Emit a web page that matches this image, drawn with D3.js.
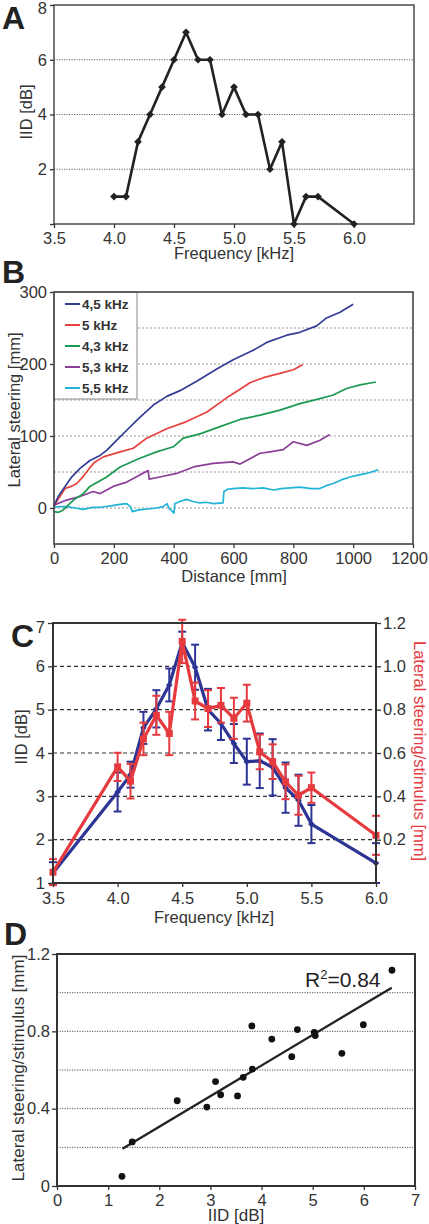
<!DOCTYPE html>
<html><head><meta charset="utf-8">
<script src="https://cdn.jsdelivr.net/npm/d3@7"></script>
<style>
html,body{margin:0;padding:0;background:#fff;}
svg{display:block;font-family:"Liberation Sans",Arial,Helvetica,sans-serif;}
</style></head><body>
<svg id="fig" width="429" height="1224"></svg>
<script>
// ---------- Panel A data ----------
const freqA = [4.0,4.1,4.2,4.3,4.4,4.5,4.6,4.7,4.8,4.9,5.0,5.1,5.2,5.3,5.4,5.5,5.6,5.7,6.0];
const iidA  = [1,1,3,4,5,6,7,6,6,4,5,4,4,2,3,0,1,1,0];
const ticksAx = [3.5,4.0,4.5,5.0,5.5,6.0];
const ticksAy = [0,2,4,6,8];

// ---------- Panel B data (distance mm, lateral steering mm) ----------
const seriesNamesB = ["4,5 kHz","5 kHz","4,3 kHz","5,3 kHz","5,5 kHz"];
const trace45 = [[0,3],[14,16],[37,30],[59,43],[87,55],[120,66],[154,73],[176,80],[209,94],[243,108],[287,126],[332,143],[377,155],[421,163],[477,176],[544,193],[599,206],[666,219],[711,230],[778,240],[822,244],[878,253],[911,264],[956,272],[1000,283]];
const trace50 = [[0,3],[26,20],[37,27],[57,30],[76,34],[98,44],[120,56],[137,64],[165,71],[221,78],[265,83],[310,97],[377,110],[443,120],[510,133],[577,153],[622,165],[655,174],[700,181],[755,187],[800,192],[831,199]];
const trace43 = [[0,-5],[15,-6],[30,-3],[42,2],[65,11],[98,20],[120,30],[176,43],[221,57],[287,69],[343,78],[399,85],[432,97],[488,103],[555,113],[622,123],[689,129],[755,136],[822,145],[889,152],[933,157],[978,166],[1023,171],[1076,175]];
const trace53 = [[0,4],[42,11],[87,16],[131,23],[154,20],[198,30],[243,36],[287,46],[315,52],[318,40],[354,43],[410,48],[466,57],[532,62],[599,64],[622,61],[644,66],[689,76],[722,78],[766,81],[800,92],[845,87],[889,94],[922,102]];
const trace55 = [[0,1],[20,2],[42,2],[70,0],[98,-2],[130,1],[154,1],[190,3],[220,5],[243,6],[255,2],[262,-5],[280,-3],[299,-2],[320,-1],[343,0],[365,2],[378,6],[385,-1],[392,-3],[398,-6],[401,-7],[404,6],[420,9],[443,12],[465,9],[488,7],[510,8],[532,6],[565,7],[568,23],[580,26],[599,27],[630,28],[666,27],[700,28],[733,25],[760,27],[790,28],[822,29],[860,27],[889,27],[910,31],[933,34],[960,39],[989,43],[1020,46],[1045,48],[1084,53]];
const ticksBx = [0,200,400,600,800,1000,1200];
const ticksBy = [0,100,200,300];
const gridBy = [0,50,100,150,200,250];

// ---------- Panel C data ----------
const freqC   = [3.5,4.0,4.1,4.2,4.3,4.4,4.5,4.6,4.7,4.8,4.9,5.0,5.1,5.2,5.3,5.4,5.5,6.0];
const iidC    = [1.23,3.1,3.5,4.58,5.02,5.57,6.55,5.98,5.0,4.68,4.22,3.8,3.82,3.67,3.2,2.91,2.36,1.46];
const iidErrC = [0.25,0.45,0.3,0.37,0.43,0.38,0.25,0.52,0.48,0.38,0.45,0.53,0.63,0.65,0.58,0.59,0.44,0.46];
const steerC    = [0.05,0.536,0.47,0.665,0.774,0.69,1.115,0.84,0.805,0.82,0.76,0.83,0.605,0.56,0.467,0.405,0.44,0.22];
const steerErrC = [0.06,0.065,0.08,0.075,0.09,0.1,0.1,0.085,0.085,0.08,0.095,0.085,0.08,0.08,0.08,0.09,0.07,0.09];
const ticksCx = [3.5,4.0,4.5,5.0,5.5,6.0];
const ticksCy = [1,2,3,4,5,6,7];
const ticksCr = [0.2,0.4,0.6,0.8,1.0,1.2];

// ---------- Panel D data ----------
const iidD   = [1.27,1.47,2.35,2.93,3.10,3.20,3.53,3.64,3.81,3.82,4.2,4.59,4.70,5.03,5.05,5.57,5.99,6.55];
const steerD = [0.05,0.228,0.441,0.408,0.54,0.472,0.466,0.562,0.828,0.605,0.76,0.669,0.809,0.795,0.778,0.686,0.834,1.116];
const fitX = [1.28,6.545];
const fitY = [0.193,1.026];
const ticksDx = [0,1,2,3,4,5,6,7];
const ticksDy = [0,0.4,0.8,1.2];
const gridDy = [0.2,0.4,0.6,0.8,1.0];

// ---------- helpers ----------
const svg = d3.select("#fig");
const TXT = "#333";
const FS = 16.5;
function styleAxis(g){
  g.select(".domain").remove();
  g.selectAll(".tick line").attr("stroke","#333").attr("stroke-width",1.3);
  g.selectAll(".tick text").attr("fill",TXT).attr("font-size",FS).attr("font-family",'"Liberation Sans",Arial,sans-serif');
}
function label(x,y,text,rot,opts={}){
  return svg.append("text").attr("transform",`translate(${x},${y}) rotate(${rot})`)
    .attr("text-anchor","middle").attr("fill",opts.fill||TXT).attr("font-size",opts.size||FS).text(text);
}
function letter(x,y,t){
  svg.append("text").attr("x",x).attr("y",y).attr("font-size",32).attr("font-weight","bold")
    .attr("fill","#222").attr("font-family",'"Liberation Sans",Arial,sans-serif').text(t);
}
function hgrid(xs,ys,vals,color,dash,w){
  svg.append("g").selectAll("line").data(vals).join("line")
    .attr("x1",xs.range()[0]).attr("x2",xs.range()[1])
    .attr("y1",d=>ys(d)).attr("y2",d=>ys(d))
    .attr("stroke",color).attr("stroke-width",w||1).attr("stroke-dasharray",dash);
}
function frame(xs,ys,w,color){
  const [x0,x1]=xs.range(), [y0,y1]=ys.range();
  svg.append("rect").attr("x",x0).attr("y",Math.min(y0,y1)).attr("width",x1-x0).attr("height",Math.abs(y0-y1))
    .attr("fill","none").attr("stroke",color).attr("stroke-width",w);
}
const fmtInt = d3.format("d"), fmt1 = d3.format(".1f");

// ================= Panel A =================
const xA = d3.scaleLinear([3.5,6.5],[54,414]);
const yA = d3.scaleLinear([0,8],[224,5]);
hgrid(xA,yA,[2,4,6],"#666","1.2,1.3",1);
frame(xA,yA,1.6,"#555");
svg.append("g").attr("transform","translate(0,224)")
  .call(d3.axisBottom(xA).tickValues(ticksAx).tickFormat(fmt1).tickSize(4).tickPadding(4)).call(styleAxis);
const gAy = svg.append("g").attr("transform","translate(54,0)")
  .call(d3.axisLeft(yA).tickValues(ticksAy).tickFormat(d=>d===0?"":fmtInt(d)).tickSize(4).tickPadding(3)).call(styleAxis);
gAy.selectAll(".tick text").filter(d=>d===8).attr("y",3);
svg.append("path").datum(freqA.map((f,i)=>[f,iidA[i]]))
  .attr("d",d3.line().x(d=>xA(d[0])).y(d=>yA(d[1])))
  .attr("fill","none").attr("stroke","#222").attr("stroke-width",2.6).attr("stroke-linejoin","round");
svg.append("g").selectAll("path").data(freqA.map((f,i)=>[f,iidA[i]])).join("path")
  .attr("d",d3.symbol(d3.symbolSquare,30)())
  .attr("transform",d=>`translate(${xA(d[0])},${yA(d[1])}) rotate(45)`).attr("fill","#222");
label(32,112,"IID [dB]",-90);
label(234,259,"Frequency [kHz]",0);
letter(2,29,"A");

// ================= Panel B =================
const xB = d3.scaleLinear([0,1200],[54,413]);
const yB = d3.scaleLinear([-50,300],[544,292]);
hgrid(xB,yB,gridBy,"#999","2,2",1);
const colorsB = ["#353c95","#e8403c","#1d9a52","#8c3f98","#22b4d8"];
const tracesB = [trace45,trace50,trace43,trace53,trace55];
const lineB = d3.line().x(d=>xB(d[0])).y(d=>yB(d[1]));
[4,3,2,1,0].forEach(i=>{
  svg.append("path").datum(tracesB[i]).attr("d",lineB).attr("fill","none")
    .attr("stroke",colorsB[i]).attr("stroke-width",1.7).attr("stroke-linejoin","round");
});
const gBx = svg.append("g").attr("transform","translate(0,544)")
  .call(d3.axisBottom(xB).tickValues(ticksBx).tickFormat(fmtInt).tickSize(4).tickPadding(4)).call(styleAxis);
gBx.selectAll(".tick text").filter(d=>d===1200).attr("dx",-4);
svg.append("g").attr("transform","translate(54,0)")
  .call(d3.axisLeft(yB).tickValues(ticksBy).tickFormat(fmtInt).tickSize(4).tickPadding(3)).call(styleAxis);
svg.append("rect").attr("x",54).attr("y",292).attr("width",83).attr("height",107)
  .attr("fill","#fff").attr("stroke","#888").attr("stroke-width",1);
const legB = svg.append("g").selectAll("g").data(seriesNamesB).join("g")
  .attr("transform",(d,i)=>`translate(0,${304+i*21})`);
legB.append("line").attr("x1",65).attr("x2",80).attr("y1",0).attr("y2",0)
  .attr("stroke",(d,i)=>colorsB[i]).attr("stroke-width",2);
legB.append("text").attr("x",82).attr("y",5).attr("font-size",13.5).attr("font-weight","bold")
  .attr("fill","#333").text(d=>d);
frame(xB,yB,1.6,"#444");
label(20,410,"Lateral steering [mm]",-90);
label(234,582,"Distance [mm]",0);
letter(2,283,"B");

// ================= Panel C =================
const xC = d3.scaleLinear([3.5,6.0],[53,376]);
const yC = d3.scaleLinear([1,7],[883,623]);
const yCr = d3.scaleLinear([0,1.2],[883,623]);
hgrid(xC,yC,[2,3,4,5,6],"#333","4,3",1.1);
const blueC = "#2c3494", redC = "#e63a3f";
const dataBlue = freqC.map((f,i)=>({f,v:iidC[i],e:iidErrC[i]}));
const dataRed  = freqC.map((f,i)=>({f,v:steerC[i],e:steerErrC[i]}));
function errBars(data,ys,color){
  const g = svg.append("g").attr("stroke",color).attr("stroke-width",2);
  g.selectAll("line.v").data(data).join("line").attr("class","v")
    .attr("x1",d=>xC(d.f)).attr("x2",d=>xC(d.f)).attr("y1",d=>ys(d.v-d.e)).attr("y2",d=>ys(d.v+d.e));
  g.selectAll("line.t").data(data).join("line").attr("class","t")
    .attr("x1",d=>xC(d.f)-4).attr("x2",d=>xC(d.f)+4).attr("y1",d=>ys(d.v+d.e)).attr("y2",d=>ys(d.v+d.e));
  g.selectAll("line.b").data(data).join("line").attr("class","b")
    .attr("x1",d=>xC(d.f)-4).attr("x2",d=>xC(d.f)+4).attr("y1",d=>ys(d.v-d.e)).attr("y2",d=>ys(d.v-d.e));
}
errBars(dataBlue,yC,blueC);
svg.append("path").datum(dataBlue).attr("d",d3.line().x(d=>xC(d.f)).y(d=>yC(d.v)))
  .attr("fill","none").attr("stroke",blueC).attr("stroke-width",3.2).attr("stroke-linejoin","round");
svg.append("g").selectAll("path").data(dataBlue).join("path")
  .attr("d",d3.symbol(d3.symbolSquare,22)())
  .attr("transform",d=>`translate(${xC(d.f)},${yC(d.v)}) rotate(45)`).attr("fill",blueC);
errBars(dataRed,yCr,redC);
svg.append("path").datum(dataRed).attr("d",d3.line().x(d=>xC(d.f)).y(d=>yCr(d.v)))
  .attr("fill","none").attr("stroke",redC).attr("stroke-width",3.2).attr("stroke-linejoin","round");
svg.append("g").selectAll("rect").data(dataRed).join("rect")
  .attr("x",d=>xC(d.f)-3.5).attr("y",d=>yCr(d.v)-3.5).attr("width",7).attr("height",7).attr("fill",redC);
frame(xC,yC,2,"#333");
svg.append("g").attr("transform","translate(0,883)")
  .call(d3.axisBottom(xC).tickValues(ticksCx).tickFormat(fmt1).tickSize(4).tickPadding(5)).call(styleAxis);
const gCy = svg.append("g").attr("transform","translate(53,0)")
  .call(d3.axisLeft(yC).tickValues(ticksCy).tickFormat(fmtInt).tickSize(5).tickPadding(3)).call(styleAxis);
gCy.selectAll(".tick text").filter(d=>d===7).attr("y",4);
svg.append("g").attr("transform","translate(376,0)")
  .call(d3.axisRight(yCr).tickValues(ticksCr).tickFormat(fmt1).tickSize(5).tickPadding(2)).call(styleAxis);
label(27,737,"IID [dB]",-90);
label(414,751,"Lateral steering/stimulus [mm]",90,{fill:redC});
label(214,923,"Frequency [kHz]",0);
letter(11,647,"C");

// ================= Panel D =================
const xD = d3.scaleLinear([0,7],[57,415]);
const yD = d3.scaleLinear([0,1.2],[1186,954]);
hgrid(xD,yD,gridDy,"#555","1.2,1.3",1);
svg.append("path").datum(fitX.map((x,i)=>[x,fitY[i]]))
  .attr("d",d3.line().x(d=>xD(d[0])).y(d=>yD(d[1])))
  .attr("stroke","#222").attr("stroke-width",2.3).attr("fill","none");
svg.append("g").selectAll("circle").data(iidD.map((x,i)=>[x,steerD[i]])).join("circle")
  .attr("cx",d=>xD(d[0])).attr("cy",d=>yD(d[1])).attr("r",3.4).attr("fill","#111");
frame(xD,yD,2,"#333");
svg.append("g").attr("transform","translate(0,1186)")
  .call(d3.axisBottom(xD).tickValues(ticksDx).tickFormat(fmtInt).tickSize(4).tickPadding(4)).call(styleAxis);
svg.append("g").attr("transform","translate(57,0)")
  .call(d3.axisLeft(yD).tickValues(ticksDy).tickFormat(d=>d===0?"0":fmt1(d)).tickSize(5).tickPadding(2)).call(styleAxis);
const r2 = svg.append("text").attr("x",305).attr("y",987).attr("font-size",21).attr("fill","#222");
r2.append("tspan").text("R");
r2.append("tspan").attr("font-size",13).attr("dy",-8).text("2");
r2.append("tspan").attr("dy",8).text("=0.84");
label(24,1068,"Lateral steering/stimulus [mm]",-90,{size:17});
label(236,1221,"IID [dB]",0,{size:17});
letter(4,945,"D");
</script>
</body></html>
